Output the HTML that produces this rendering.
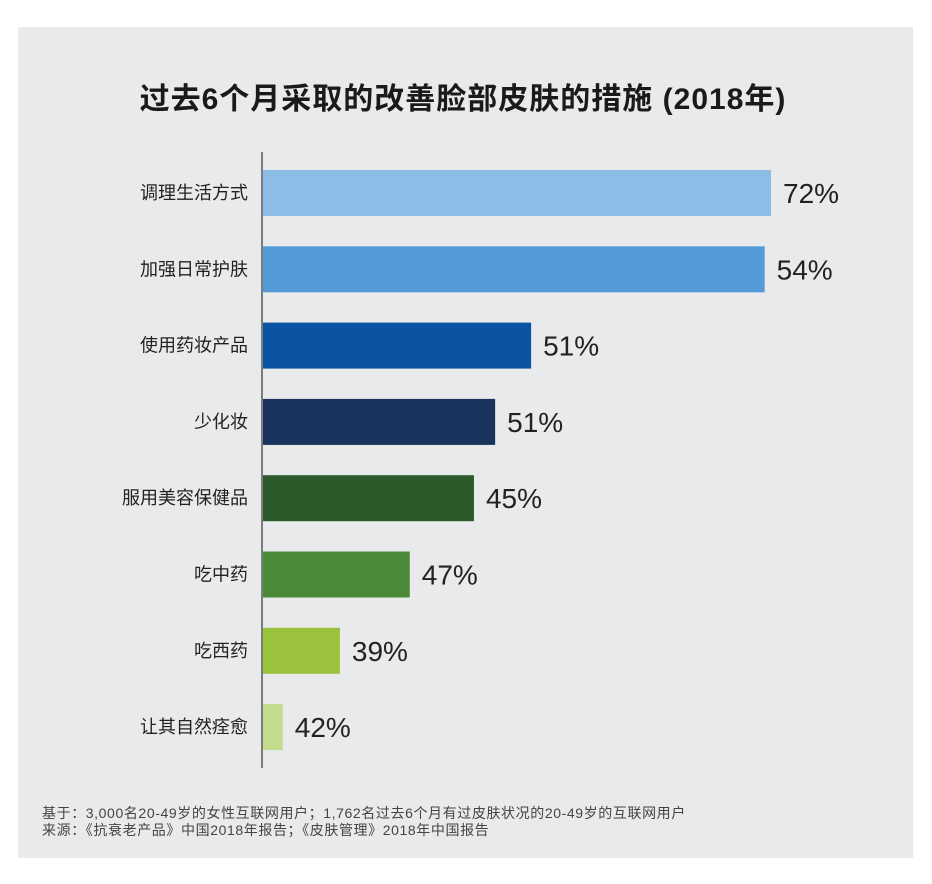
<!DOCTYPE html>
<html><head><meta charset="utf-8">
<style>
body{margin:0;width:932px;height:884px;background:#fff;font-family:"Liberation Sans","Noto Sans CJK SC",sans-serif;}
#panel{position:absolute;left:18px;top:27px;width:895px;height:831px;background:#e9eaeb;}
#title{position:absolute;left:0;top:74px;width:926px;text-align:center;font-size:30px;font-weight:bold;color:#1a1a1a;letter-spacing:1px;}
.foot{position:absolute;left:42px;font-size:14px;color:#444;letter-spacing:0.6px;}
</style></head><body>
<div id="panel"></div>
<div id="title">过去6个月采取的改善脸部皮肤的措施 (2018年)</div>
<svg id="chart" width="932" height="884" style="position:absolute;left:0;top:0"></svg>
<div class="foot" style="top:803px">基于：3,000名20-49岁的女性互联网用户；1,762名过去6个月有过皮肤状况的20-49岁的互联网用户</div>
<div class="foot" style="top:820px">来源：《抗衰老产品》中国2018年报告；《皮肤管理》2018年中国报告</div>
<script>
const categories=["调理生活方式","加强日常护肤","使用药妆产品","少化妆","服用美容保健品","吃中药","吃西药","让其自然痊愈"];
const barValues=[72,71.1,38,32.9,29.9,20.8,10.9,2.8];
const valueLabels=["72%","54%","51%","51%","45%","47%","39%","42%"];
const colors=["#8dbde7","#549ad7","#0a53a3","#1a335d","#2c5a2b","#4a8a39","#9ac23d","#c3dc8c"];
const NS="http://www.w3.org/2000/svg";
const svg=document.getElementById('chart');
const x0=263, pxPerUnit=508/72;
const xScale=v=>v*pxPerUnit;
const yCenter=i=>193+i*76.3;
const barH=46;
const ax=document.createElementNS(NS,'line');
ax.setAttribute('x1',262);ax.setAttribute('x2',262);ax.setAttribute('y1',152);ax.setAttribute('y2',768);
ax.setAttribute('stroke','#333');ax.setAttribute('stroke-width','1.2');


svg.appendChild(ax);
categories.forEach((c,i)=>{
  const yc=yCenter(i);
  const r=document.createElementNS(NS,'rect');
  r.setAttribute('x',x0);r.setAttribute('y',yc-barH/2);r.setAttribute('width',xScale(barValues[i]));r.setAttribute('height',barH);
  r.setAttribute('fill',colors[i]);
  
  
  svg.appendChild(r);
  const t=document.createElementNS(NS,'text');
  t.setAttribute('x',248);t.setAttribute('y',yc+6);t.setAttribute('text-anchor','end');
  t.setAttribute('font-size','18');t.setAttribute('fill','#222');t.textContent=c;
  
  
  svg.appendChild(t);
  const v=document.createElementNS(NS,'text');
  v.setAttribute('x',x0+xScale(barValues[i])+12);v.setAttribute('y',yc+10);
  v.setAttribute('font-size','28');v.setAttribute('fill','#222');v.textContent=valueLabels[i];
  
  
  svg.appendChild(v);
});
</script>
</body></html>
